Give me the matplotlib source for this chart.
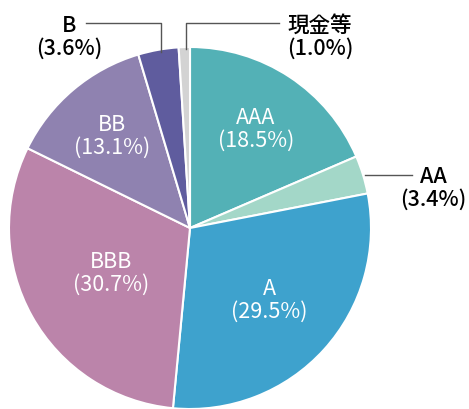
import numpy as np
import matplotlib
matplotlib.use("Agg")
import matplotlib.pyplot as plt

plt.rcParams['font.family'] = ['Noto Sans CJK JP', 'DejaVu Sans']

# 格付け別構成比
labels = ['AAA', 'AA', 'A', 'BBB', 'BB', 'B', '現金等']
values = [18.5, 3.4, 29.5, 30.7, 13.1, 3.6, 1.0]
colors = ['#53b1b6', '#a3d7c8', '#3ea2cd', '#bb84aa', '#8f82b0', '#5f5c9e', '#d3d3d3']

W, H = 469, 410
cx, cy, R = 190, H - 229, 181

fig = plt.figure(figsize=(W / 100, H / 100), dpi=100)
ax = fig.add_axes([0, 0, 1, 1])

wedges, _ = ax.pie(values, colors=colors, startangle=90, counterclock=False,
                   center=(cx, cy), radius=R, frame=True,
                   wedgeprops=dict(edgecolor='white', linewidth=1.5))
ax.set_xlim(0, W)
ax.set_ylim(0, H)
ax.set_aspect('equal')
ax.axis('off')

fs = 15.5
ls = 1.05
# 内側ラベル
inside = {'AAA': 0.66, 'A': 0.59, 'BBB': 0.50, 'BB': 0.67}
for w, lab, v in zip(wedges, labels, values):
    if lab not in inside:
        continue
    ang = np.deg2rad((w.theta1 + w.theta2) / 2)
    r = R * inside[lab]
    ax.text(cx + r * np.cos(ang), cy + r * np.sin(ang), f'{lab}\n({v}%)',
            ha='center', va='center', color='white', fontsize=fs, linespacing=ls)

def edge(w):
    ang = np.deg2rad((w.theta1 + w.theta2) / 2)
    return cx + R * np.cos(ang), cy + R * np.sin(ang)

lc = '#555555'
tw = 'medium'
# AA
x0, y0 = edge(wedges[1])
ax.plot([x0 + 2, 412], [y0, y0], color=lc, lw=1)
ax.text(433, y0 - 13, f'{labels[1]}\n({values[1]}%)', ha='center', va='center',
        fontsize=fs, linespacing=ls, weight=tw)
# B
x0, y0 = edge(wedges[5])
ty = H - 24
ax.plot([x0 + 3, x0 + 3, 86], [y0 - 2, ty, ty], color=lc, lw=1)
ax.text(69, ty - 13, f'{labels[5]}\n({values[5]}%)', ha='center', va='center',
        fontsize=fs, linespacing=ls, weight=tw)
# 現金等
x0, y0 = edge(wedges[6])
ax.plot([x0 + 2, x0 + 2, 279], [y0 - 2, ty, ty], color=lc, lw=1)
ax.text(320, ty - 13, f'{labels[6]}\n({values[6]}%)', ha='center', va='center',
        fontsize=fs, linespacing=ls, weight=tw)

fig.savefig('out.png', dpi=100)
